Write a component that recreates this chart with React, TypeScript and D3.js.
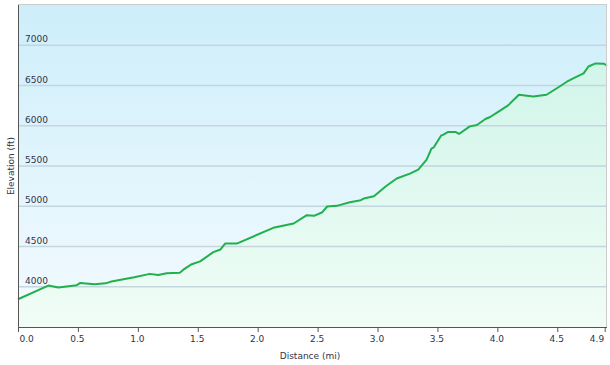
import React from "react";
import * as d3 from "d3";

const distance = [0, 0.253, 0.337, 0.49, 0.52, 0.64, 0.73, 0.78, 0.97, 1.1, 1.17, 1.24, 1.35, 1.38, 1.45, 1.52, 1.63, 1.69, 1.73, 1.83, 2.13, 2.3, 2.41, 2.47, 2.54, 2.58, 2.66, 2.77, 2.86, 2.885, 2.97, 3.07, 3.16, 3.27, 3.34, 3.41, 3.45, 3.47, 3.53, 3.55, 3.59, 3.65, 3.68, 3.77, 3.83, 3.9, 3.94, 4.0, 4.09, 4.18, 4.3, 4.41, 4.5, 4.58, 4.65, 4.72, 4.76, 4.82, 4.89, 4.915];
const elevation = [3845, 4015, 3990, 4020, 4048, 4032, 4042, 4065, 4118, 4160, 4147, 4168, 4175, 4212, 4280, 4315, 4430, 4463, 4538, 4538, 4732, 4786, 4889, 4881, 4926, 4997, 5005, 5050, 5075, 5096, 5124, 5248, 5344, 5406, 5456, 5580, 5716, 5732, 5877, 5890, 5923, 5923, 5898, 5992, 6010, 6084, 6109, 6166, 6253, 6385, 6364, 6385, 6469, 6547, 6600, 6650, 6736, 6774, 6770, 6745];
const xTicks = [0, 0.5, 1, 1.5, 2, 2.5, 3, 3.5, 4, 4.5, 4.9];
const yTicks = [4000, 4500, 5000, 5500, 6000, 6500, 7000];

const W = 610, H = 365;
const L = 18, R = 607, T = 5, B = 327;

export default function App() {
  const x = d3.scaleLinear().domain([0, 4.915]).range([L, R]);
  const y = d3.scaleLinear().domain([3500, 7500]).range([B, T]);
  const pts: [number, number][] = distance.map((d, i) => [d, elevation[i]]);
  const line = d3.line<[number, number]>().x(d => x(d[0])).y(d => y(d[1]))(pts) || "";
  const area = d3.area<[number, number]>().x(d => x(d[0])).y0(B).y1(d => y(d[1]))(pts) || "";
  const font = "'DejaVu Sans', Verdana, sans-serif";
  const txt = "#33334a";
  return (
    <svg width={W} height={H} style={{ position: "absolute", left: 0, top: 0, background: "#fff" }}>
      <defs>
        <linearGradient id="bg" x1="0" y1="0" x2="0" y2="1">
          <stop offset="0" stopColor="#cdeefa" />
          <stop offset="1" stopColor="#f4fbff" />
        </linearGradient>
        <linearGradient id="fill" x1="0" y1="0" x2="0" y2="1">
          <stop offset="0" stopColor="#d2f5ea" />
          <stop offset="1" stopColor="#f0fdf6" />
        </linearGradient>
      </defs>
      <rect x={L} y={T} width={R - L} height={B - T} fill="url(#bg)" />
      <path d={area} fill="url(#fill)" />
      {yTicks.map(t => (
        <line key={t} x1={L} x2={R} y1={y(t)} y2={y(t)} stroke="#c3d6dd" strokeWidth={1.6} />
      ))}
      {yTicks.map(t => (
        <text key={"l" + t} x={25} y={y(t) - 3} fontFamily={font} fontSize={9} fill={txt}>{t}</text>
      ))}
      <path d={line} fill="none" stroke="#20b04c" strokeWidth={2} strokeLinejoin="round" />
      <line x1={L} x2={R} y1={T - 0.5} y2={T - 0.5} stroke="#cccccc" />
      <line x1={R - 0.5} x2={R - 0.5} y1={T} y2={B} stroke="#cccccc" />
      <line x1={L + 0.5} x2={L + 0.5} y1={T} y2={B + 1} stroke="#555" />
      <line x1={L} x2={R} y1={B + 0.5} y2={B + 0.5} stroke="#555" />
      {xTicks.map((t, i) => {
        const px = x(t) - (i === xTicks.length - 1 ? 0.5 : 0) + 0.5;
        let anchor = "middle";
        let tx = px - 1;
        if (i === 0) { anchor = "start"; tx = px + 1; }
        if (i === xTicks.length - 1) { anchor = "end"; tx = px - 1; }
        return (
          <g key={t}>
            <line x1={px} x2={px} y1={B} y2={B + 5} stroke="#555" />
            <text x={tx} y={342} textAnchor={anchor} fontFamily={font} fontSize={9} fill={txt}>{t.toFixed(1)}</text>
          </g>
        );
      })}
      <text x={310} y={359} textAnchor="middle" fontFamily={font} fontSize={9} fill={txt}>Distance (mi)</text>
      <text transform={`translate(14,${(T + B) / 2}) rotate(-90)`} textAnchor="middle" fontFamily={font} fontSize={9} fill={txt}>Elevation (ft)</text>
    </svg>
  );
}
